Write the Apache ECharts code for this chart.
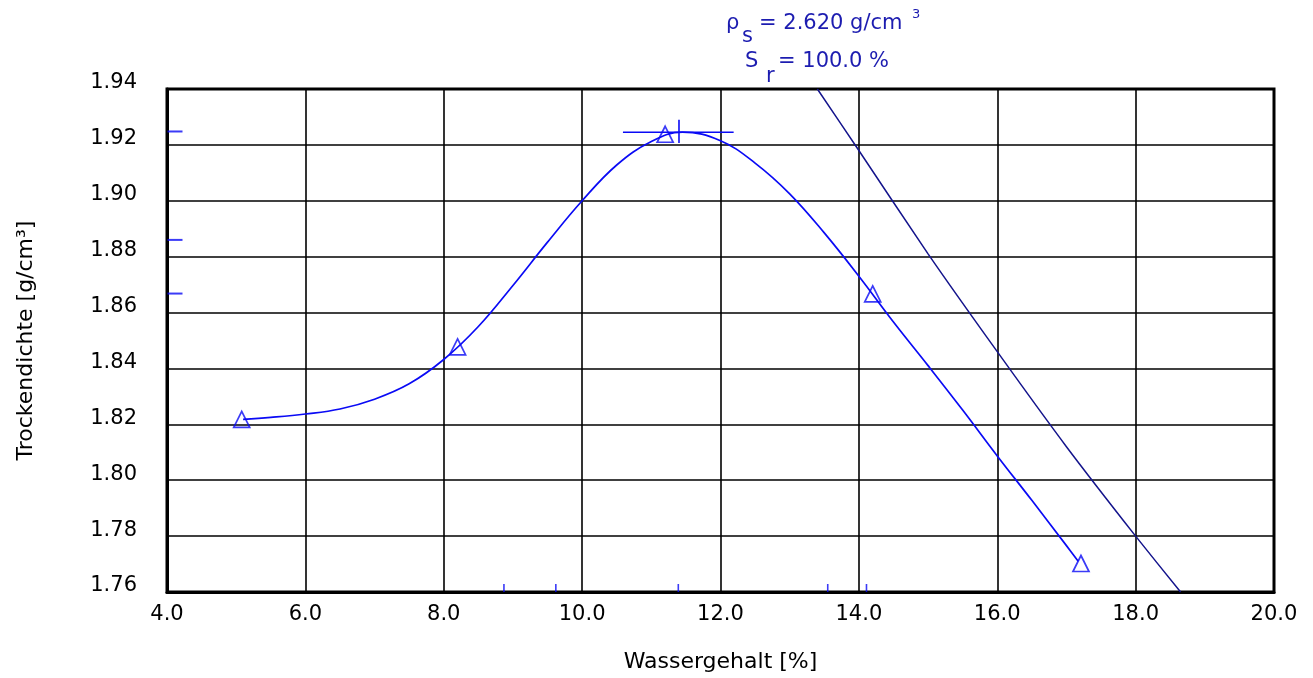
<!DOCTYPE html>
<html>
<head>
<meta charset="utf-8">
<script src="https://cdn.jsdelivr.net/npm/echarts@6/dist/echarts.min.js"></script>
<style>
  html, body { margin: 0; padding: 0; background: #fff; }
  #chart { width: 1313px; height: 678px; }
</style>
</head>
<body>
<div id="chart"></div>
<script>
// ---- data ----
const xTicks = [4, 6, 8, 10, 12, 14, 16, 18, 20];
const yTicks = [1.76, 1.78, 1.80, 1.82, 1.84, 1.86, 1.88, 1.90, 1.92, 1.94];

// measured points (Wassergehalt %, Trockendichte g/cm3)
const measuredW   = [5.08, 8.20, 11.20, 14.20, 17.21];
const measuredRho = [1.8218, 1.8477, 1.9238, 1.8667, 1.7702];

// fitted Proctor curve
const fitW   = [5.10, 5.50, 6.00, 6.50, 7.00, 7.50, 8.00, 8.50, 9.00, 9.50, 10.00, 10.50, 11.00, 11.45, 12.00, 12.50, 13.00, 13.50, 14.00, 14.50, 15.00, 15.50, 16.00, 16.50, 17.00, 17.17];
const fitRho = [1.8218, 1.8225, 1.8237, 1.8255, 1.8290, 1.8345, 1.8432, 1.8550, 1.8697, 1.8852, 1.9000, 1.9128, 1.9212, 1.9246, 1.9215, 1.9135, 1.9025, 1.8885, 1.8730, 1.8566, 1.8410, 1.8251, 1.8087, 1.7928, 1.7766, 1.7710];

// saturation line Sr = 100 %
const satW   = [13.40, 14.00, 15.00, 16.00, 17.00, 18.00, 18.65];
const satRho = [1.940, 1.918, 1.881, 1.846, 1.812, 1.780, 1.760];

// optimum cross
const optW = 11.40, optRho = 1.9245;
const optSpanW = [10.59, 12.19];
const optSpanRho = [1.9207, 1.9290];

// small blue marks on the axes
const leftMarkRho = [1.9248, 1.8860, 1.8668];
const bottomMarkW = [8.87, 9.62, 11.39, 13.55, 14.11];

// annotation texts
const annoRho = ['ρ', 's', '= 2.620 g/cm', '3'];
const annoSr  = ['S', 'r', '= 100.0 %'];

const FONT = 'DejaVu Sans';
const FS = 21;
const FS_TITLE = 22;
const BLUE = '#0a0af5';
const NAVY = '#14148c';
const TXTBLUE = '#1c1cb0';

const zip = (a, b) => a.map((v, i) => [v, b[i]]);
const f = (s) => s + 'px "' + FONT + '"';

const chart = echarts.init(document.getElementById('chart'));
chart.setOption({
  animation: false,
  backgroundColor: '#fff',
  textStyle: { fontFamily: FONT },
  grid: { left: 167, top: 89, width: 1107, height: 504, show: true, borderColor: '#000', borderWidth: 3, backgroundColor: 'transparent' },
  xAxis: {
    type: 'value', min: xTicks[0], max: xTicks[xTicks.length - 1], interval: 2,
    name: 'Wassergehalt [%]', nameLocation: 'middle', nameGap: 59,
    nameTextStyle: { fontFamily: FONT, fontSize: FS_TITLE, color: '#000' },
    axisLine: { show: true, lineStyle: { color: '#000', width: 3 } },
    axisTick: { show: false },
    axisLabel: { fontFamily: FONT, fontSize: FS, color: '#000', margin: 12, formatter: v => v.toFixed(1) },
    splitLine: { show: true, lineStyle: { color: '#000', width: 1.6 } }
  },
  yAxis: {
    type: 'value', min: yTicks[0], max: yTicks[yTicks.length - 1], interval: 0.02,
    name: 'Trockendichte [g/cm³]', nameLocation: 'middle', nameGap: 130, nameRotate: 90,
    nameTextStyle: { fontFamily: FONT, fontSize: FS_TITLE, color: '#000' },
    axisLine: { show: true, lineStyle: { color: '#000', width: 3 } },
    axisTick: { show: false },
    axisLabel: { fontFamily: FONT, fontSize: FS, color: '#000', margin: 30, verticalAlign: 'bottom', lineHeight: 12, formatter: v => v.toFixed(2) },
    splitLine: { show: true, lineStyle: { color: '#000', width: 1.6 } }
  },
  series: [
    { type: 'line', data: zip(satW, satRho), smooth: 0.2, symbol: 'none', lineStyle: { color: NAVY, width: 1.5 }, z: 3 },
    { type: 'line', data: zip(fitW, fitRho), smooth: 0.4, symbol: 'none', lineStyle: { color: BLUE, width: 1.7 }, z: 4 },
    { type: 'line', data: [[optSpanW[0], optRho], [optSpanW[1], optRho]], symbol: 'none', lineStyle: { color: BLUE, width: 1.6 }, z: 4 },
    { type: 'line', data: [[optW, optSpanRho[0]], [optW, optSpanRho[1]]], symbol: 'none', lineStyle: { color: BLUE, width: 1.6 }, z: 4 },
    { type: 'scatter', data: zip(measuredW, measuredRho), symbol: 'triangle', symbolSize: [16, 16],
      itemStyle: { color: 'rgba(0,0,0,0)', borderColor: BLUE, borderWidth: 1.7 }, z: 5 },
    { type: 'scatter', data: leftMarkRho.map(r => [xTicks[0], r]), symbol: 'rect', symbolSize: [15, 2], symbolOffset: [8, 0],
      itemStyle: { color: BLUE }, z: 6 },
    { type: 'scatter', data: bottomMarkW.map(w => [w, yTicks[0]]), symbol: 'rect', symbolSize: [1.6, 8], symbolOffset: [0, -4],
      itemStyle: { color: BLUE }, z: 6 }
  ],
  graphic: [
    { type: 'text', x: 726, y: 24, style: { text: annoRho[0], font: f(FS), fill: TXTBLUE, verticalAlign: 'middle' } },
    { type: 'text', x: 742, y: 37, style: { text: annoRho[1], font: f(FS), fill: TXTBLUE, verticalAlign: 'middle' } },
    { type: 'text', x: 759, y: 24, style: { text: annoRho[2], font: f(FS), fill: TXTBLUE, verticalAlign: 'middle' } },
    { type: 'text', x: 912, y: 15, style: { text: annoRho[3], font: f(13), fill: TXTBLUE, verticalAlign: 'middle' } },
    { type: 'text', x: 745, y: 62, style: { text: annoSr[0], font: f(FS), fill: TXTBLUE, verticalAlign: 'middle' } },
    { type: 'text', x: 766, y: 77, style: { text: annoSr[1], font: f(FS), fill: TXTBLUE, verticalAlign: 'middle' } },
    { type: 'text', x: 778, y: 62, style: { text: annoSr[2], font: f(FS), fill: TXTBLUE, verticalAlign: 'middle' } }
  ]
});
</script>
</body>
</html>
